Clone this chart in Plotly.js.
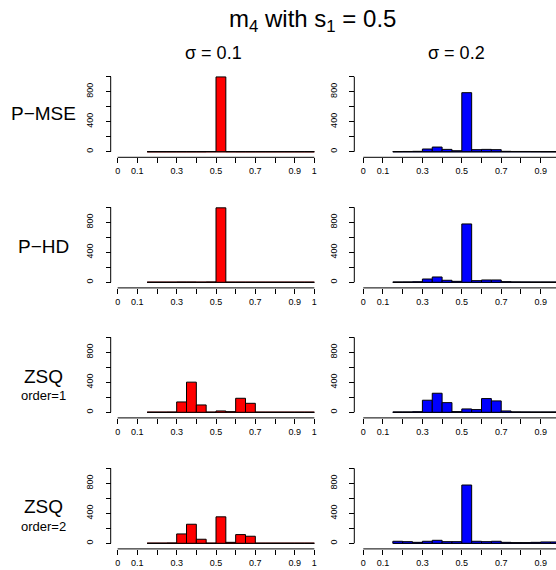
<!DOCTYPE html>
<html><head><meta charset="utf-8">
<script src="https://cdn.plot.ly/plotly-3.0.1.min.js"></script>
<style>html,body{margin:0;padding:0;background:#fff}#chart{width:556px;height:570px}</style>
</head><body><div id="chart"></div>
<script>
// ---- data ----
const binEdges = [0.15,0.2,0.25,0.3,0.35,0.4,0.45,0.5,0.55,0.6,0.65,0.7,0.75,0.8,0.85,0.9,0.95,1.0];
const pmseSigma01 = [0,0,0,0,0,0,2,997,1,0,0,0,0,0,0,0,0];
const pmseSigma02 = [2,3,5,36,62,31,13,787,27,31,27,5,3,3,2,1,1];
const phdSigma01  = [0,0,0,2,2,0,3,993,0,0,0,0,0,0,0,0,0];
const phdSigma02  = [2,3,6,44,71,27,13,778,22,31,31,8,4,3,2,2,1];
const zsq1Sigma01 = [0,0,1,138,402,98,0,18,8,187,120,0,0,0,0,0,0];
const zsq1Sigma02 = [3,3,7,161,254,129,9,45,36,183,152,18,4,3,2,2,2];
const zsq2Sigma01 = [0,0,3,125,254,54,0,353,13,116,94,0,0,0,0,0,0];
const zsq2Sigma02 = [27,22,13,27,40,22,22,777,27,22,27,13,9,9,13,18,18];
const xTickVals = [0,0.1,0.3,0.5,0.7,0.9,1];
const xTickText = ['0','0.1','0.3','0.5','0.7','0.9','1'];
const xMinorTickVals = [0.2,0.4,0.6,0.8];
const yTickVals = [0,400,800];
const yTickText = ['0','400','800'];
const yMinorTickVals = [200,600,1000];
const titleText = 'm<sub>4</sub> with s<sub>1</sub> = 0.5';
const colTitles = ['σ = 0.1','σ = 0.2'];
const rowLabels = ['P\u2212MSE','P\u2212HD','ZSQ','ZSQ'];
const rowSubLabels = ['','','order=1','order=2'];

// ---- layout geometry (pixels) ----
const W=556, H=570;
const FONT = 'Liberation Sans, Arial, Helvetica, sans-serif';
const px = v => v/W, py = v => 1 - v/H;
const rowZero = [151.7,282.3,412.3,543.3];
const colDomain = [[109.8,322.2],[355.4,556]];
const colRange = [[-0.04,1.04],[-0.04,0.978]];
const colYLine = [110.7,354.3];
const colors = ['#FF0000','#0000FF'];
const baseColors = ['#8a1a1a','#1a1a40'];

const series = [
  [pmseSigma01,pmseSigma02],
  [phdSigma01,phdSigma02],
  [zsq1Sigma01,zsq1Sigma02],
  [zsq2Sigma01,zsq2Sigma02]
];
const centers = binEdges.slice(0,-1).map((e,i)=>(e+binEdges[i+1])/2);
const widths = binEdges.slice(0,-1).map((e,i)=>binEdges[i+1]-e);
const xLo = Math.min(...xTickVals), xHi = Math.max(...xTickVals);
const yLo = Math.min(...yTickVals, ...yMinorTickVals), yHi = Math.max(...yTickVals, ...yMinorTickVals);

const data=[], shapes=[], annotations=[];
const layout = {
  width:W, height:H, margin:{l:0,r:0,t:0,b:0},
  paper_bgcolor:'#fff', plot_bgcolor:'#fff', showlegend:false,
  bargap:0, font:{family:FONT,color:'#000'}
};
let k=0;
for(let r=0;r<4;r++){
  for(let c=0;c<2;c++){
    k++;
    const xs = k===1?'x':'x'+k, ys = k===1?'y':'y'+k;
    const xa = k===1?'xaxis':'xaxis'+k, ya = k===1?'yaxis':'yaxis'+k;
    data.push({type:'bar', x:centers, y:series[r][c], width:widths,
      xaxis:xs, yaxis:ys, marker:{color:colors[c], line:{color:'#000',width:1}},
      hoverinfo:'skip'});
    const z = rowZero[r];
    const xLinePos = py(z+5.6);
    const inRange = xTickVals.map((v,i)=>i).filter(i=>xTickVals[i]<=colRange[c][1]);
    layout[xa] = {domain:[px(colDomain[c][0]),px(colDomain[c][1])], range:colRange[c],
      anchor:'free', position:xLinePos, showline:false, showgrid:false, zeroline:false,
      ticks:'outside', ticklen:5, tickwidth:1, tickcolor:'#000',
      tickmode:'array', tickvals:inRange.map(i=>xTickVals[i]), ticktext:inRange.map(i=>xTickText[i]),
      minor:{tickmode:'array', tickvals:xMinorTickVals, ticks:'outside', ticklen:5, tickwidth:1, tickcolor:'#000', showgrid:false},
      tickfont:{size:9,color:'#000',family:FONT}, fixedrange:true};
    layout[ya] = {domain:[py(z+3),py(z-78)], range:[-40,1040],
      anchor:'free', position:px(colYLine[c]), showline:false, showgrid:false, zeroline:false,
      ticks:'outside', ticklen:5, tickwidth:1, tickcolor:'#000',
      tickmode:'array', tickvals:yTickVals, ticktext:yTickText, tickangle:-90, ticklabelstandoff:9,
      minor:{tickmode:'array', tickvals:yMinorTickVals, ticks:'outside', ticklen:5, tickwidth:1, tickcolor:'#000', showgrid:false},
      tickfont:{size:9,color:'#000',family:FONT}, fixedrange:true};
    // R-style axis lines spanning only the tick range
    shapes.push({type:'line', xref:xs, yref:'paper', x0:xLo, x1:xHi,
      y0:xLinePos, y1:xLinePos, line:{color:'#000',width:1}});
    shapes.push({type:'line', xref:'paper', yref:ys, x0:px(colYLine[c]), x1:px(colYLine[c]),
      y0:yLo, y1:yHi, line:{color:'#000',width:1}});
    // zero-height bins drawn as a baseline, like R's hist
    shapes.push({type:'line', xref:xs, yref:ys, x0:binEdges[0], x1:binEdges[binEdges.length-1],
      y0:0, y1:0, layer:'below', line:{color:baseColors[c],width:1.5}});
  }
}
annotations.push({text:titleText, x:px(312.5), y:py(20), xref:'paper', yref:'paper',
  xanchor:'center', yanchor:'middle', showarrow:false, font:{size:24,family:FONT,color:'#000'}});
const colTitleX=[213.7,456];
colTitles.forEach((t,i)=>annotations.push({text:t, x:px(colTitleX[i]), y:py(53), xref:'paper', yref:'paper',
  xanchor:'center', yanchor:'middle', showarrow:false, font:{size:18,family:FONT,color:'#000'}}));
const rowLabelY=[113.7,246.7,376.7,506.7];
const rowSubY=[0,0,395.5,526];
rowLabels.forEach((t,i)=>{
  annotations.push({text:t, x:px(43.3), y:py(rowLabelY[i]), xref:'paper', yref:'paper',
    xanchor:'center', yanchor:'middle', showarrow:false, font:{size:19,family:FONT,color:'#000'}});
  if(rowSubLabels[i]) annotations.push({text:rowSubLabels[i], x:px(43.3), y:py(rowSubY[i]), xref:'paper', yref:'paper',
    xanchor:'center', yanchor:'middle', showarrow:false, font:{size:13,family:FONT,color:'#000'}});
});
layout.shapes=shapes; layout.annotations=annotations;
Plotly.newPlot('chart', data, layout, {displayModeBar:false, staticPlot:true});
</script></body></html>
